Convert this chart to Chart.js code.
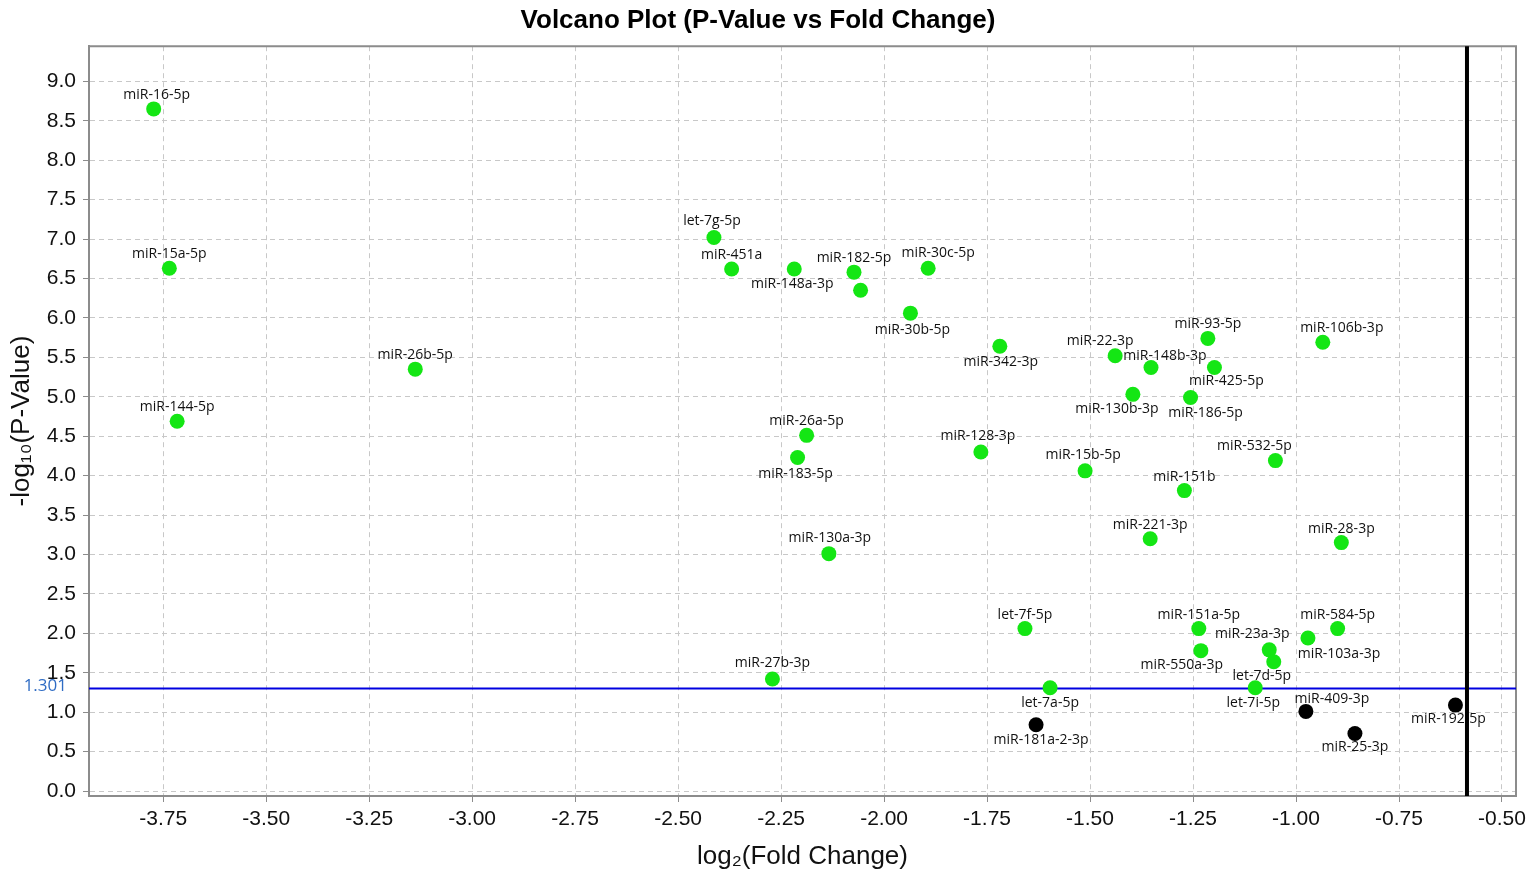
<!DOCTYPE html>
<html>
<head>
<meta charset="utf-8">
<title>Volcano Plot</title>
<script src="https://cdn.jsdelivr.net/npm/chart.js@4.4.1/dist/chart.umd.min.js"></script>
<style>
  html, body { margin: 0; padding: 0; background: #fff; }
  #wrap { width: 1535px; height: 884px; }
</style>
</head>
<body>
<div id="wrap"><canvas id="volcano" width="1535" height="884"></canvas></div>
<script>
// Datos (miRNA, log2 fold change, -log10 p)
const mirnaNames = [
  'miR-16-5p', 'miR-15a-5p', 'miR-144-5p', 'miR-26b-5p', 'let-7g-5p', 'miR-451a',
  'miR-148a-3p', 'miR-182-5p', '', 'miR-30c-5p', 'miR-30b-5p', 'miR-342-3p',
  'miR-22-3p', 'miR-148b-3p', 'miR-93-5p', 'miR-106b-3p', 'miR-425-5p', 'miR-130b-3p',
  'miR-186-5p', 'miR-26a-5p', 'miR-183-5p', 'miR-128-3p', 'miR-15b-5p', 'miR-532-5p',
  'miR-151b', 'miR-130a-3p', 'miR-221-3p', 'miR-28-3p', 'let-7f-5p', 'miR-151a-5p',
  'miR-584-5p', 'miR-23a-3p', 'miR-103a-3p', 'miR-550a-3p', 'let-7d-5p', 'let-7i-5p',
  'let-7a-5p', 'miR-27b-3p', 'miR-181a-2-3p', 'miR-409-3p', 'miR-25-3p', 'miR-192-5p'
];
const log2FoldChange = [
  -3.773, -3.735, -3.716, -3.138, -2.413, -2.370,
  -2.218, -2.073, -2.057, -1.893, -1.936, -1.719,
  -1.439, -1.352, -1.214, -0.935, -1.198, -1.396,
  -1.256, -2.188, -2.210, -1.765, -1.512, -1.050,
  -1.271, -2.134, -1.354, -0.890, -1.658, -1.236,
  -0.899, -1.065, -0.971, -1.231, -1.054, -1.099,
  -1.597, -2.271, -1.631, -0.976, -0.857, -0.613
];
const negLog10P = [
  8.65, 6.63, 4.69, 5.35, 7.02, 6.62,
  6.62, 6.58, 6.35, 6.63, 6.06, 5.64,
  5.52, 5.37, 5.74, 5.69, 5.37, 5.03,
  4.99, 4.51, 4.23, 4.30, 4.06, 4.19,
  3.81, 3.01, 3.20, 3.15, 2.06, 2.06,
  2.06, 1.79, 1.94, 1.78, 1.64, 1.31,
  1.31, 1.42, 0.84, 1.01, 0.73, 1.09
];
const xTickValues = [-3.75, -3.5, -3.25, -3, -2.75, -2.5, -2.25, -2, -1.75, -1.5, -1.25, -1, -0.75, -0.5];
const yTickValues = [0, 0.5, 1, 1.5, 2, 2.5, 3, 3.5, 4, 4.5, 5, 5.5, 6, 6.5, 7, 7.5, 8, 8.5, 9];
const pValueCutoff = 1.301;
const foldChangeCutoff = -0.585;

// Desplazamiento de cada etiqueta respecto a su punto (px), por defecto encima
const labelOffsets = {
  'miR-16-5p': [3, -14], 'let-7g-5p': [-2, -16], 'miR-148a-3p': [-2, 15],
  'miR-30c-5p': [10, -15], 'miR-30b-5p': [2, 17], 'miR-342-3p': [1, 16],
  'miR-22-3p': [-15, -15], 'miR-148b-3p': [14, -12], 'miR-106b-3p': [19, -14],
  'miR-425-5p': [12, 13], 'miR-130b-3p': [-16, 15], 'miR-186-5p': [15, 15],
  'miR-183-5p': [-2, 17], 'miR-128-3p': [-3, -16], 'miR-15b-5p': [-2, -16],
  'miR-532-5p': [-21, -15], 'miR-130a-3p': [1, -16], 'miR-23a-3p': [-17, -16],
  'miR-103a-3p': [31, 16], 'miR-550a-3p': [-19, 14], 'let-7d-5p': [-12, 14],
  'let-7i-5p': [-2, 15], 'let-7a-5p': [0, 15], 'miR-27b-3p': [0, -16],
  'miR-181a-2-3p': [5, 15], 'miR-409-3p': [26, -12], 'miR-25-3p': [0, 14],
  'miR-192-5p': [-7, 14]
};

// Separar puntos significativos (verde) y no significativos (negro)
const sigPoints = [];
const otherPoints = [];
mirnaNames.forEach((name, i) => {
  const p = { x: log2FoldChange[i], y: negLog10P[i], name: name };
  if (p.y >= pValueCutoff && p.x <= foldChangeCutoff) sigPoints.push(p);
  else otherPoints.push(p);
});

const axisGrey = '#8c8c8c';

// Lineas de corte y marco
const cutoffLines = {
  id: 'cutoffLines',
  beforeDatasetsDraw(chart) {
    const { ctx, chartArea: a, scales: { y } } = chart;
    const yPix = y.getPixelForValue(pValueCutoff);
    ctx.save();
    ctx.strokeStyle = axisGrey;
    ctx.lineWidth = 2;
    ctx.beginPath();
    ctx.moveTo(a.left, a.top);
    ctx.lineTo(a.right, a.top);
    ctx.lineTo(a.right, a.bottom);
    ctx.stroke();

    ctx.strokeStyle = '#0000e0';
    ctx.lineWidth = 2;
    ctx.beginPath();
    ctx.moveTo(a.left, yPix);
    ctx.lineTo(a.right, yPix);
    ctx.stroke();

    ctx.fillStyle = '#2f6cc4';
    ctx.font = '17px "Open Sans"';
    ctx.textAlign = 'right';
    ctx.textBaseline = 'middle';
    ctx.fillText('1.301', a.left - 22, yPix - 2);
    ctx.restore();
  },
  afterDraw(chart) {
    const { ctx, chartArea: a, scales: { x } } = chart;
    const xPix = x.getPixelForValue(foldChangeCutoff);
    ctx.save();
    ctx.strokeStyle = '#000';
    ctx.lineWidth = 4;
    ctx.beginPath();
    ctx.moveTo(xPix, a.top);
    ctx.lineTo(xPix, a.bottom);
    ctx.stroke();
    ctx.restore();
  }
};

// Etiquetas de cada miRNA
const pointLabels = {
  id: 'pointLabels',
  afterDatasetsDraw(chart) {
    const { ctx } = chart;
    ctx.save();
    ctx.font = '14px "Open Sans"';
    ctx.fillStyle = '#111';
    ctx.textAlign = 'center';
    ctx.textBaseline = 'middle';
    chart.data.datasets.forEach((ds, di) => {
      chart.getDatasetMeta(di).data.forEach((el, i) => {
        const name = ds.data[i].name;
        if (!name) return;
        const off = labelOffsets[name] || [0, -14];
        ctx.fillText(name, el.x + off[0], el.y + off[1]);
      });
    });
    ctx.restore();
  }
};

const tickFont = { family: '"Liberation Sans", Arial, sans-serif', size: 21 };
const titleFont = { family: '"Liberation Sans", Arial, sans-serif', size: 26 };

new Chart(document.getElementById('volcano'), {
  type: 'scatter',
  data: {
    datasets: [
      { label: 'significant', data: sigPoints, backgroundColor: '#14e614', borderWidth: 0, pointRadius: 7.5 },
      { label: 'not significant', data: otherPoints, backgroundColor: '#000', borderWidth: 0, pointRadius: 7.5 }
    ]
  },
  options: {
    responsive: false,
    animation: false,
    events: [],
    layout: { padding: { left: 0, right: 19, top: 0, bottom: 0 } },
    plugins: {
      legend: { display: false },
      tooltip: { enabled: false },
      title: {
        display: true,
        text: 'Volcano Plot (P-Value vs Fold Change)',
        color: '#000',
        font: { family: '"Liberation Sans", Arial, sans-serif', size: 26, weight: 'bold' },
        padding: { top: 5, bottom: 10 }
      }
    },
    scales: {
      x: {
        type: 'linear',
        min: -3.93,
        max: -0.466,
        afterBuildTicks: s => { s.ticks = xTickValues.map(v => ({ value: v })); },
        afterFit: s => { s.height = 88; },
        ticks: { callback: v => v.toFixed(2), font: tickFont, color: '#111', padding: 5, maxRotation: 0 },
        grid: { color: '#c8c8c8', tickColor: axisGrey, tickLength: 6, tickBorderDash: [] },
        border: { color: axisGrey, width: 2, dash: [5, 4] },
        title: {
          display: true,
          text: 'log₂(Fold Change)',
          color: '#111',
          font: titleFont,
          padding: { top: 0, bottom: 12 }
        }
      },
      y: {
        type: 'linear',
        min: -0.063,
        max: 9.445,
        afterBuildTicks: s => { s.ticks = yTickValues.map(v => ({ value: v })); },
        afterFit: s => { s.width = 89; },
        ticks: { callback: v => v.toFixed(1), font: tickFont, color: '#111', padding: 7 },
        grid: { color: '#c8c8c8', tickColor: axisGrey, tickLength: 6, tickBorderDash: [] },
        border: { color: axisGrey, width: 2, dash: [5, 4] },
        title: {
          display: true,
          text: '-log₁₀(P-Value)',
          color: '#111',
          font: titleFont,
          padding: { top: 6, bottom: 0 }
        }
      }
    }
  },
  plugins: [cutoffLines, pointLabels]
});
</script>
</body>
</html>
